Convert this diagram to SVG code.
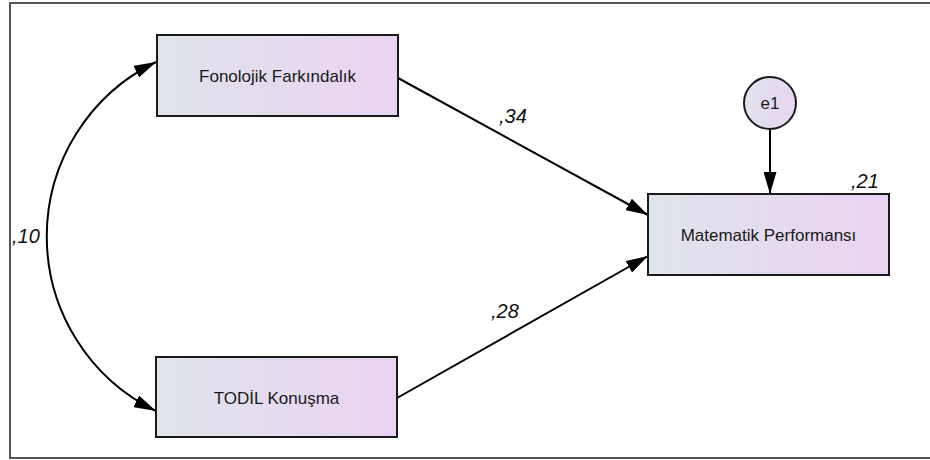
<svg xmlns="http://www.w3.org/2000/svg" width="930" height="460" viewBox="0 0 930 460">
  <defs>
    <linearGradient id="boxFill" x1="0" y1="0" x2="1" y2="0">
      <stop offset="0" stop-color="#dfe4eb"/>
      <stop offset="1" stop-color="#ebd3f2"/>
    </linearGradient>
    <linearGradient id="circleFill" x1="0" y1="0" x2="1" y2="0">
      <stop offset="0" stop-color="#e0e2ee"/>
      <stop offset="1" stop-color="#e8d6f1"/>
    </linearGradient>
    <marker id="arrow" viewBox="0 0 22 13" refX="22" refY="6.5" markerWidth="22" markerHeight="13" markerUnits="userSpaceOnUse" orient="auto-start-reverse">
      <path d="M0,0 L22,6.5 L0,13 Z" fill="#000"/>
    </marker>
  </defs>
  <style>
    .box { fill: url(#boxFill); stroke: #1a1a1a; stroke-width: 2; }
    .circle { fill: url(#circleFill); stroke: #1a1a1a; stroke-width: 2; }
    .label { font-family: "Liberation Sans", Arial, sans-serif; font-size: 17px; fill: #1a1a1a; text-anchor: middle; }
    .coef { font-family: "Liberation Sans", Arial, sans-serif; font-size: 20px; font-style: italic; fill: #111; }
    .edge { fill: none; stroke: #000; stroke-width: 2; }
  </style>

  <rect width="930" height="460" fill="#fff"/>
  <!-- outer frame, open on the right -->
  <rect x="10" y="3" width="940" height="455" fill="none" stroke="#555" stroke-width="2"/>

  <g id="connectors">
    <path class="edge" d="M156,62 A194,194 0 0 0 156,411" marker-start="url(#arrow)" marker-end="url(#arrow)"/>
    <line class="edge" x1="398" y1="78" x2="648" y2="215" marker-end="url(#arrow)"/>
    <line class="edge" x1="397" y1="398" x2="648" y2="256" marker-end="url(#arrow)"/>
    <line class="edge" x1="770" y1="129" x2="770" y2="194" marker-end="url(#arrow)"/>
    <text class="coef" x="499" y="123">,34</text>
    <text class="coef" x="491" y="318">,28</text>
    <text class="coef" x="12" y="243">,10</text>
  </g>

  <g id="fonolojik">
    <rect class="box" x="157" y="35" width="241" height="81"/>
    <text class="label" x="277.5" y="82">Fonolojik Farkındalık</text>
  </g>

  <g id="todil">
    <rect class="box" x="156" y="357" width="241" height="80"/>
    <text class="label" x="276.5" y="404">TODİL Konuşma</text>
  </g>

  <g id="matematik">
    <rect class="box" x="648" y="194" width="241" height="81"/>
    <text class="label" x="768.5" y="241">Matematik Performansı</text>
    <text class="coef" x="851" y="188">,21</text>
  </g>

  <g id="e1">
    <circle class="circle" cx="770" cy="103" r="26"/>
    <text class="label" x="770" y="109">e1</text>
  </g>
</svg>
